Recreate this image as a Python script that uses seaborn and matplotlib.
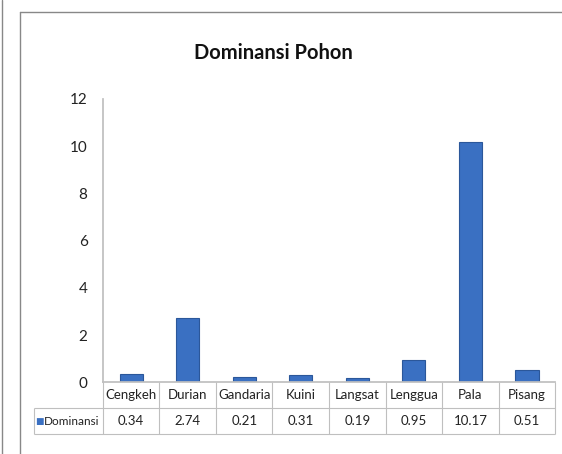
import matplotlib
matplotlib.use("Agg")
import matplotlib.pyplot as plt
import seaborn as sns
from matplotlib.lines import Line2D
from pandas import DataFrame

categories = ["Cengkeh", "Durian", "Gandaria", "Kuini", "Langsat", "Lenggua", "Pala", "Pisang"]
dominansi = [0.34, 2.74, 0.21, 0.31, 0.19, 0.95, 10.17, 0.51]
value_labels = ["0.34", "2.74", "0.21", "0.31", "0.19", "0.95", "10.17", "0.51"]
y_ticks = [0, 2, 4, 6, 8, 10, 12]
series_name = "Dominansi"
title = "Dominansi Pohon"

BAR = "#3a70c2"
EDGE = "#2b579a"
GRID = "#bfbfbf"
TXT = "#222222"

sns.set_theme(style="white")
plt.rcParams['font.family'] = ['Lato', 'DejaVu Sans']

fig = plt.figure(figsize=(5.62, 4.54), dpi=100)
ax = fig.add_axes([0.183, 0.158, 0.805, 0.624])

df = DataFrame({'kategori': categories, 'nilai': dominansi})
sns.barplot(x='kategori', y='nilai', data=df, color=BAR, width=0.41,
            edgecolor=EDGE, linewidth=0.8, saturation=1, ax=ax)

n = len(categories)
ax.set_ylim(0, 12)
ax.set_xlim(-0.5, n - 0.5)
ax.set_yticks(y_ticks)
ax.set_yticklabels([str(t) for t in y_ticks], fontsize=11, color=TXT)
ax.set_xticks([])
ax.set(xlabel=None, ylabel=None)
for side in ["top", "right"]:
    ax.spines[side].set_visible(False)
ax.spines["left"].set_color(GRID)
ax.spines["bottom"].set_color(GRID)
ax.tick_params(axis="y", length=0, pad=11)

ax.set_title(title, fontsize=14.5, fontweight="bold", color="#111111", pad=29, x=0.376)

# data table under the axis (x in data units, y in axes units)
tr = ax.get_xaxis_transform()
row_h = 0.092
head_left = -1.72
edges = [i - 0.5 for i in range(n + 1)]
ax.vlines(edges, -2 * row_h, 0, colors=GRID, lw=0.8, transform=tr, clip_on=False)
ax.vlines([head_left], -2 * row_h, -row_h, colors=GRID, lw=0.8, transform=tr, clip_on=False)
ax.hlines([-row_h, -2 * row_h], head_left, n - 0.5, colors=GRID, lw=0.8, transform=tr, clip_on=False)

for j, (cat, val) in enumerate(zip(categories, value_labels)):
    ax.text(j, -row_h / 2, cat, transform=tr, ha="center", va="center", fontsize=9.5, color=TXT)
    ax.text(j, -1.5 * row_h, val, transform=tr, ha="center", va="center", fontsize=9.5, color=TXT)
ax.text(-0.56, -1.5 * row_h, series_name, transform=tr, ha="right", va="center", fontsize=8.5, color=TXT)
ax.text(-1.69, -1.5 * row_h, "\u25a0", transform=tr, ha="left", va="center", fontsize=6.5,
        color=BAR, family="DejaVu Sans")

# chart frame
fig.add_artist(Line2D([0.036, 0.036], [0, 0.974], color="#888888", lw=1))
fig.add_artist(Line2D([0.036, 1], [0.974, 0.974], color="#888888", lw=1))
fig.add_artist(Line2D([0.003, 0.003], [0, 1], color="#888888", lw=1))

fig.savefig("out.png", dpi=100)
plt.close(fig)
